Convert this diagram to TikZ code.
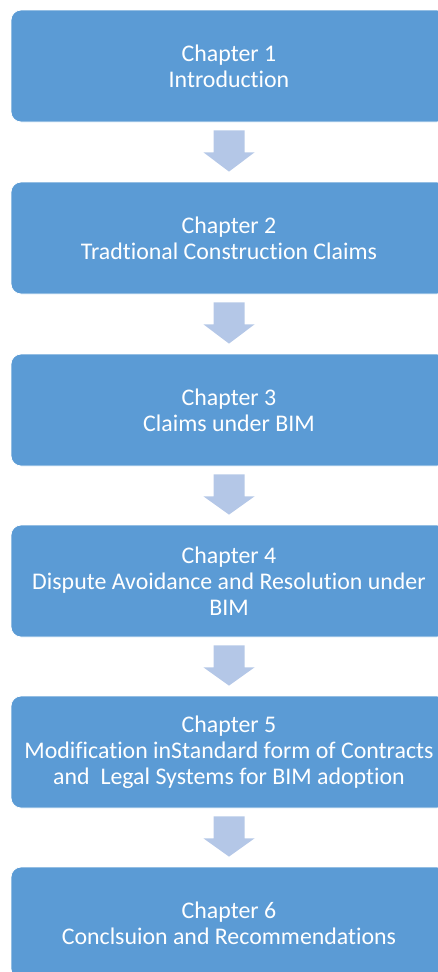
\documentclass[tikz,border=0pt]{standalone}
\usepackage{fontspec}
\setmainfont{Carlito}[Ligatures={NoCommon}]
\usetikzlibrary{calc}
\definecolor{boxblue}{RGB}{91,155,213}
\definecolor{arrowblue}{RGB}{180,199,231}
\begin{document}
\begin{tikzpicture}[x=0.75pt,y=-0.75pt,
  chap/.style={fill=boxblue,draw=white,line width=0.6pt,rounded corners=7.5pt,
    minimum width=327pt,minimum height=84pt,inner sep=0pt,text=white,align=center,
    font=\fontsize{17.9}{19.6}\selectfont},
  downarrow/.style={fill=arrowblue,draw=none}]
\useasboundingbox (0,0) rectangle (438,972);
\node[chap] (b1) at (229,66) {Chapter 1\\Introduction};
\node[chap] (b2) at (229,238) {Chapter 2\\Tradtional Construction Claims};
\node[chap] (b3) at (229,410) {Chapter 3\\Claims under BIM};
\node[chap] (b4) at (229,581) {Chapter 4\\Dispute Avoidance and Resolution under\\BIM};
\node[chap] (b5) at (229,752) {Chapter 5\\Modification inStandard form of Contracts\\and~ Legal Systems for BIM adoption};
\node[chap] (b6) at (229,923) {Chapter 6\\Conclsuion and Recommendations};
\foreach \a/\b in {b1/b2,b2/b3,b3/b4,b4/b5,b5/b6}{
  \fill[downarrow] ($(\a.south)+(-15.5,8)$) -- ($(\a.south)+(15.5,8)$)
    -- ($(\a.south)+(15.5,30)$) -- ($(\a.south)+(25.5,30)$)
    -- ($(\b.north)+(0,-10)$)
    -- ($(\a.south)+(-25.5,30)$) -- ($(\a.south)+(-15.5,30)$) -- cycle;
}
\end{tikzpicture}
\end{document}
